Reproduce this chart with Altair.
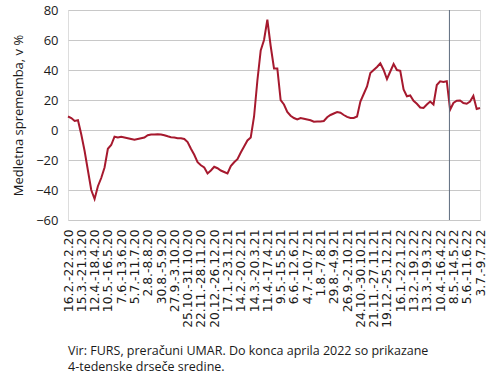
import altair as alt
import pandas as pd

week_labels = [
    "16.2.-22.2.20", "15.3.-21.3.20", "12.4.-18.4.20", "10.5.-16.5.20",
    "7.6.-13.6.20", "5.7.-11.7.20", "2.8.-8.8.20", "30.8.-5.9.20",
    "27.9.-3.10.20", "25.10.-31.10.20", "22.11.-28.11.20", "20.12.-26.12.20",
    "17.1.-23.1.21", "14.2.-20.2.21", "14.3.-20.3.21", "11.4.-17.4.21",
    "9.5.-15.5.21", "6.6.-12.6.21", "4.7.-10.7.21", "1.8.-7.8.21",
    "29.8.-4.9.21", "26.9.-2.10.21", "24.10.-30.10.21", "21.11.-27.11.21",
    "19.12.-25.12.21", "16.1.-22.1.22", "13.2.-19.2.22", "13.3.-19.3.22",
    "10.4.-16.4.22", "8.5.-14.5.22", "5.6.-11.6.22", "3.7.-9.7.22",
]

values = [
    9, 8, 6, 6.5, -3, -14, -27, -40, -46, -37.5,
    -32, -25, -12.5, -10, -4.5, -5, -4.5, -5, -5.5, -6,
    -6.5, -6, -5.5, -5, -3.5, -3, -3, -2.8, -3, -3.5,
    -4.2, -4.8, -5, -5.5, -5.5, -6, -8, -12.5, -16.5, -21.5,
    -23.5, -25, -29, -27, -24.5, -25.5, -27, -28, -29, -24,
    -21.5, -19.5, -15, -11, -7, -5, 9, 33, 53, 60,
    73.5, 56, 41, 41, 20, 17, 12, 9.5, 8, 7,
    8, 7.5, 7, 6.5, 5.5, 5.7, 5.7, 6, 8.5, 10,
    11, 12, 11.5, 10, 8.7, 8, 8, 9, 19, 24,
    29, 38, 40, 42, 44.5, 40, 34, 39, 44, 40,
    39.5, 27, 22.5, 23, 19.5, 17.5, 15, 14.7, 17, 19,
    17, 30, 32.5, 32, 32.5, 13.5, 18, 19.5, 19.7, 18,
    17.5, 19, 22.7, 14, 14.7,
]

separator_week = [114.8]

y_ticks = [-60, -40, -20, 0, 20, 40, 60, 80]

source_lines = [
    "Vir: FURS, preračuni UMAR. Do konca aprila 2022 so prikazane",
    "4-tedenske drseče sredine.",
]

df = pd.DataFrame({"week": list(range(len(values))), "value": values})
sep_df = pd.DataFrame({"week": separator_week})

label_array = "[" + ",".join("'" + s + "'" for s in week_labels) + "]"
label_expr = label_array + "[round(datum.value / 4)]"
tick_vals = [i * 4 for i in range(len(week_labels))]

label_font = "DejaVu Sans"
main_font = "Open Sans"

x_axis = alt.Axis(
    values=tick_vals,
    labelExpr=label_expr,
    labelAngle=270,
    labelAlign="right",
    labelBaseline="middle",
    labelFont=label_font,
    labelFontSize=12.3,
    labelColor="#1a1a1a",
    labelPadding=9,
    labelOverlap=False,
    labelFlush=False,
    grid=False,
    ticks=False,
    domain=False,
    title=None,
)

x_scale = alt.Scale(domain=[0, len(values) - 1], nice=False, zero=False)

y_enc = alt.Y(
    "value:Q",
    scale=alt.Scale(domain=[-60, 80], nice=False, zero=False),
    axis=alt.Axis(
        values=y_ticks,
        grid=True,
        gridColor="#c8c8c8",
        gridWidth=1,
        ticks=False,
        domain=False,
        labelFont=main_font,
        labelFontSize=13,
        labelColor="#1a1a1a",
        labelPadding=10,
        title="Medletna sprememba, v %",
        titleFont=main_font,
        titleFontSize=13,
        titleFontWeight="normal",
        titleColor="#1a1a1a",
        titlePadding=10,
    ),
)

line = alt.Chart(df).mark_line(color="#A6192E", strokeWidth=2).encode(
    x=alt.X("week:Q", scale=x_scale, axis=x_axis),
    y=y_enc,
)

rule = alt.Chart(sep_df).mark_rule(color="#5d6b7e", strokeWidth=1).encode(
    x=alt.X("week:Q", scale=x_scale, axis=x_axis),
)

chart = (
    alt.layer(line, rule)
    .properties(
        width=412,
        height=210,
        autosize=alt.AutoSizeParams(type="none"),
        padding={"left": 68, "top": 10, "right": 10, "bottom": 158},
        title=alt.TitleParams(
            text=source_lines,
            orient="bottom",
            anchor="start",
            frame="group",
            offset=18,
            font=main_font,
            fontSize=12.5,
            fontWeight="normal",
            color="#1a1a1a",
            lineHeight=15.5,
        ),
    )
    .configure_view(stroke="#bdbdbd", strokeWidth=1)
    .configure_axis(labelOverlap=False)
    .configure(background="white")
)

chart.save("out.html", embed_options={"renderer": "svg", "actions": False})
